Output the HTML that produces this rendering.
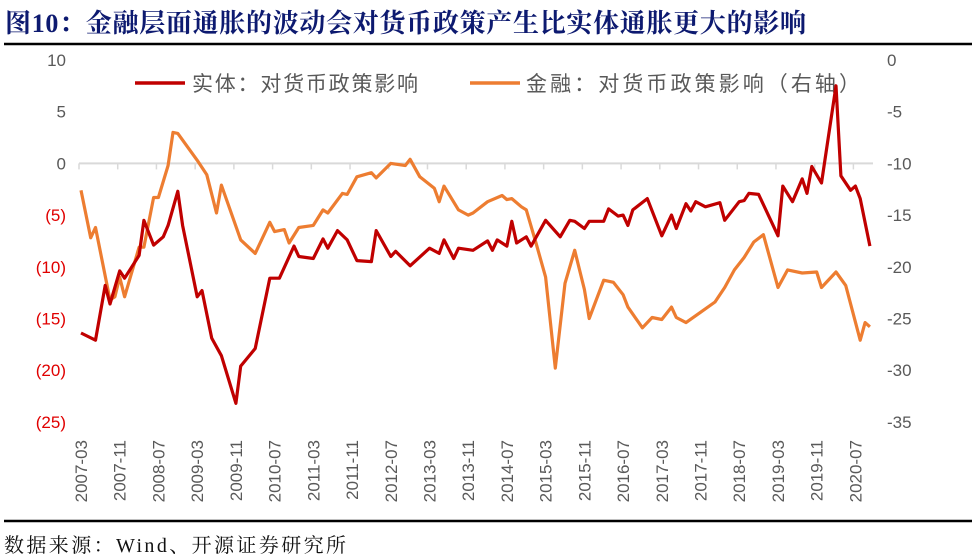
<!DOCTYPE html>
<html><head><meta charset="utf-8">
<style>
body{margin:0;background:#fff;width:972px;height:557px;overflow:hidden;position:relative;font-family:"Liberation Sans","Noto Sans CJK SC",sans-serif}
.title{position:absolute;left:5px;top:3px;font:bold 26px "Liberation Serif","Noto Serif CJK SC",serif;color:#0d1a70;white-space:nowrap;letter-spacing:0.7px}
.src{position:absolute;left:4px;top:529px;font:20px "Liberation Serif","Noto Serif CJK SC",serif;color:#111;white-space:nowrap;letter-spacing:2.4px}
</style></head><body>
<div class="title">图10：金融层面通胀的波动会对货币政策产生比实体通胀更大的影响</div>
<svg id="c" width="972" height="557" style="position:absolute;left:0;top:0">
<line x1="4" y1="44" x2="972" y2="44" stroke="#000" stroke-width="2.5"/>
<line x1="4" y1="521" x2="972" y2="521" stroke="#000" stroke-width="2.5"/>
<g>
<line x1="135" y1="83" x2="185" y2="83" stroke="#c00000" stroke-width="3.5"/>
<text x="192" y="91" font-size="21" fill="#595959" textLength="226" lengthAdjust="spacing">实体：对货币政策影响</text>
<line x1="470" y1="83" x2="520" y2="83" stroke="#ed7d31" stroke-width="3.5"/>
<text x="526" y="91" font-size="21" fill="#595959" textLength="334" lengthAdjust="spacing">金融：对货币政策影响（右轴）</text>
</g>
<g id="axes"></g><g id="series"></g>
</svg>
<div class="src">数据来源：Wind、开源证券研究所</div>
<script>
const leftTicks=[10,5,0,-5,-10,-15,-20,-25];
const leftTickLabels=["10","5","0","(5)","(10)","(15)","(20)","(25)"];
const rightTicks=[0,-5,-10,-15,-20,-25,-30,-35];
const xTickLabels=["2007-03","2007-11","2008-07","2009-03","2009-11","2010-07","2011-03","2011-11","2012-07","2013-03","2013-11","2014-07","2015-03","2015-11","2016-07","2017-03","2017-11","2018-07","2019-03","2019-11","2020-07"];
// months since 2007-03
const realMonths=[0,3,5,6,8,9,12,13,15,17,18,20,21,24,25,27,29,32,33,36,39,41,44,45,48,50,51,53,55,57,60,61,64,65,68,72,74,75,77,78,81,84,85,86,88,89,90,92,93,96,99,101,102,104,105,108,109,111,112,113,114,117,120,122,123,125,126,127,129,132,133,136,137,138,140,144,145,147,149,150,151,153,156,157,159,160,161,163];
const realValues=[-16.4,-17.1,-11.8,-13.6,-10.4,-11.1,-8.9,-5.5,-7.9,-7.1,-6.0,-2.7,-6.0,-12.9,-12.3,-16.9,-18.6,-23.2,-19.6,-17.9,-11.1,-11.1,-8.0,-9.0,-9.2,-7.3,-8.2,-6.5,-7.4,-9.4,-9.5,-6.5,-9.0,-8.5,-9.9,-8.2,-8.7,-7.4,-9.2,-8.2,-8.4,-7.5,-8.4,-7.4,-8.0,-5.6,-7.7,-7.1,-8.0,-5.5,-7.1,-5.5,-5.6,-6.3,-5.6,-5.6,-4.4,-5.1,-5.0,-6.0,-4.5,-3.4,-7.0,-5.0,-6.3,-3.9,-4.6,-3.7,-4.2,-3.8,-5.5,-3.7,-3.6,-2.9,-3.0,-7.0,-2.2,-3.7,-1.5,-2.9,-0.3,-1.9,7.5,-1.2,-2.6,-2.2,-3.4,-8.0];
const finMonths=[0,2,3,6,7,8,9,12,13,15,16,18,19,20,24,26,28,29,33,36,39,40,42,43,45,48,50,51,54,55,57,60,61,64,67,68,70,73,74,75,78,80,81,84,87,88,89,91,92,94,96,98,100,102,104,105,108,110,112,113,116,118,120,122,123,125,128,131,133,135,137,139,141,144,146,149,152,153,156,158,161,162,163];
const finValues=[-12.6,-17.2,-16.2,-23.2,-22.9,-21.0,-22.9,-18.1,-18.1,-13.3,-13.3,-10.2,-7.0,-7.1,-9.7,-11.1,-14.8,-12.1,-17.4,-18.7,-15.7,-16.6,-16.4,-17.7,-16.2,-16.0,-14.5,-14.8,-12.9,-13.0,-11.3,-10.9,-11.4,-10.0,-10.2,-9.6,-11.3,-12.4,-13.7,-12.2,-14.5,-15.0,-14.8,-13.7,-13.1,-13.5,-13.4,-14.2,-14.5,-17.7,-21.0,-29.8,-21.6,-18.4,-22.2,-25.0,-21.3,-21.5,-22.7,-23.9,-25.9,-24.9,-25.1,-23.9,-24.9,-25.4,-24.4,-23.4,-22.0,-20.3,-19.1,-17.6,-16.9,-22.0,-20.3,-20.6,-20.5,-22.0,-20.5,-21.8,-27.1,-25.4,-25.8];

const NS="http://www.w3.org/2000/svg";
const yTop=60,yPx=10.34;
const yL=v=>yTop+(10-v)*yPx;
const yR=v=>yTop+(0-v)*yPx;
const xM=m=>81+m*4.84;
const axes=document.getElementById('axes'),ser=document.getElementById('series');
function mk(tag,a,p){const e=document.createElementNS(NS,tag);for(const k in a)e.setAttribute(k,a[k]);p.appendChild(e);return e;}
leftTicks.forEach((v,i)=>{const t=mk('text',{x:66,y:yL(v)+6,'text-anchor':'end','font-size':17,fill:v<0?'#e00000':'#595959'},axes);t.textContent=leftTickLabels[i];

});
rightTicks.forEach(v=>{const t=mk('text',{x:887,y:yR(v)+6,'font-size':17,fill:'#595959'},axes);t.textContent=String(v);

});
const ax=mk('line',{x1:79,y1:yL(0),x2:873,y2:yL(0),stroke:'#d9d9d9','stroke-width':2},axes);


xTickLabels.forEach((l,i)=>{const x=xM(i*8)-2;
const tk=mk('line',{x1:x,y1:yL(0),x2:x,y2:yL(0)+6,stroke:'#d9d9d9','stroke-width':1.5},axes);


const t=mk('text',{x:0,y:0,'font-size':17,fill:'#595959','text-anchor':'end',transform:`translate(${x+8},440) rotate(-90)`},axes);t.textContent=l;

});
function path(ms,vs,fy){return ms.map((m,i)=>(i?'L':'M')+xM(m).toFixed(1)+','+fy(vs[i]).toFixed(1)).join('');}
const pf=mk('path',{d:path(finMonths,finValues,yR),fill:'none',stroke:'#ed7d31','stroke-width':3.2,'stroke-linejoin':'round'},ser);


const pr=mk('path',{d:path(realMonths,realValues,yL),fill:'none',stroke:'#c00000','stroke-width':3.2,'stroke-linejoin':'round'},ser);


</script>
</body></html>
